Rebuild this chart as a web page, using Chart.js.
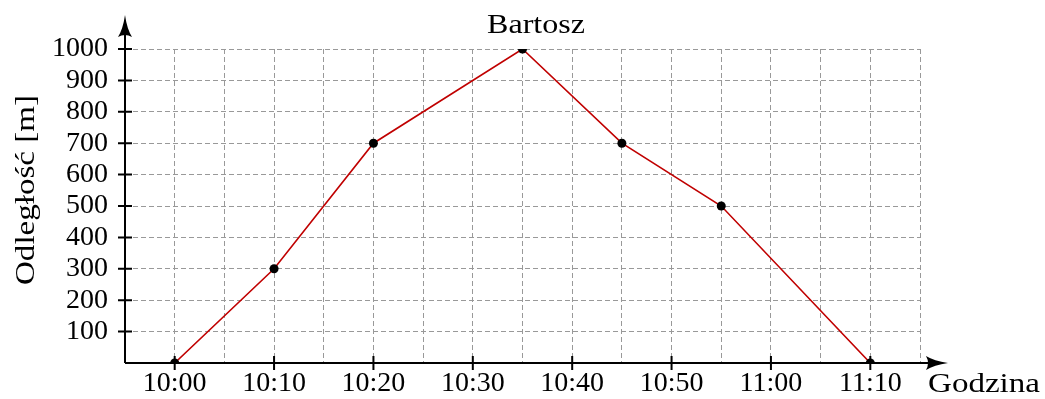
<!DOCTYPE html>
<html>
<head>
<meta charset="utf-8">
<script src="https://cdn.jsdelivr.net/npm/chart.js@4.4.1/dist/chart.umd.min.js"></script>
<style>
  html, body { margin: 0; padding: 0; background: #fff; }
  #wrap { width: 1045px; height: 399px; }
</style>
</head>
<body>
<div id="wrap"><canvas id="chart" width="1045" height="399"></canvas></div>
<script>
const times = ["10:00", "10:10", "10:20", "10:35", "10:45", "10:55", "11:10"];
const distances = [0, 300, 700, 1000, 700, 500, 0];
const xTickLabels = ["10:00", "10:10", "10:20", "10:30", "10:40", "10:50", "11:00", "11:10"];
const yTickLabels = [100, 200, 300, 400, 500, 600, 700, 800, 900, 1000];

const FONT = '"Liberation Serif", "DejaVu Serif", serif';

function toMinutes(t) {
    const [h, m] = t.split(':').map(Number);
    return (h - 10) * 60 + m;
}
function fmt(min) {
    const h = 10 + Math.floor(min / 60);
    const m = ((min % 60) + 60) % 60;
    return h + ':' + String(m).padStart(2, '0');
}

const points = times.map((t, i) => ({ x: toMinutes(t), y: distances[i] }));

// writes a word stretched to a given width
function wideText(ctx, text, x, y, width) {
    const w = ctx.measureText(text).width;
    ctx.save();
    ctx.translate(x, y);
    ctx.scale(width / w, 1);
    ctx.fillText(text, 0, 0);
    ctx.restore();
}

const axesPlugin = {
    id: 'axes',
    beforeDatasetsDraw(chart) {
        const ctx = chart.ctx;
        const { left, right, top, bottom } = chart.chartArea;
        const xs = chart.scales.x, ys = chart.scales.y;
        ctx.save();
        ctx.strokeStyle = '#000';
        ctx.fillStyle = '#000';
        ctx.lineWidth = 2;
        // axes
        ctx.beginPath();
        ctx.moveTo(left, bottom);
        ctx.lineTo(right + 20, bottom);
        ctx.moveTo(left, bottom);
        ctx.lineTo(left, top - 28);
        ctx.stroke();
        // ticks
        ctx.beginPath();
        xTickLabels.forEach(l => {
            const px = xs.getPixelForValue(toMinutes(l));
            ctx.moveTo(px, bottom - 7);
            ctx.lineTo(px, bottom + 7);
        });
        yTickLabels.forEach(v => {
            const py = ys.getPixelForValue(v);
            ctx.moveTo(left - 7, py);
            ctx.lineTo(left + 7, py);
        });
        ctx.stroke();
        // arrow heads
        const ax = right + 28, ay = bottom;
        ctx.beginPath();
        ctx.moveTo(ax, ay);
        ctx.quadraticCurveTo(ax - 14, ay - 2, ax - 22, ay - 7);
        ctx.quadraticCurveTo(ax - 18, ay, ax - 22, ay + 7);
        ctx.quadraticCurveTo(ax - 14, ay + 2, ax, ay);
        ctx.fill();
        const bx = left, by = top - 34;
        ctx.beginPath();
        ctx.moveTo(bx, by);
        ctx.quadraticCurveTo(bx - 2, by + 14, bx - 7, by + 22);
        ctx.quadraticCurveTo(bx, by + 18, bx + 7, by + 22);
        ctx.quadraticCurveTo(bx + 2, by + 14, bx, by);
        ctx.fill();
        // texts
        ctx.font = '28px ' + FONT;
        ctx.textBaseline = 'middle';
        ctx.textAlign = 'center';
        wideText(ctx, 'Bartosz', 536, 26, 98);
        ctx.textAlign = 'left';
        wideText(ctx, 'Godzina', 928, 385, 112);
        ctx.translate(27, 190);
        ctx.rotate(-Math.PI / 2);
        ctx.textAlign = 'center';
        wideText(ctx, 'Odległość [m]', 0, 0, 190);
        ctx.restore();
    }
};

new Chart(document.getElementById('chart').getContext('2d'), {
    type: 'line',
    data: {
        datasets: [{
            label: 'Bartosz',
            data: points,
            borderColor: '#c00000',
            borderWidth: 1.6,
            pointBackgroundColor: '#000',
            pointBorderColor: '#000',
            pointRadius: 4.5,
            pointBorderWidth: 0,
            tension: 0,
            fill: false
        }]
    },
    options: {
        responsive: false,
        animation: false,
        layout: { padding: { left: 0, right: 125, top: 49, bottom: 0 } },
        plugins: { legend: { display: false }, tooltip: { enabled: false } },
        scales: {
            x: {
                type: 'linear',
                min: -5,
                max: 75,
                afterFit(scale) { scale.height = 36; },
                border: { display: false, dash: [5, 3] },
                grid: { color: '#999', lineWidth: 1, drawTicks: false },
                ticks: {
                    stepSize: 5,
                    padding: 4,
                    color: '#000',
                    font: { family: FONT, size: 28 },
                    maxRotation: 0,
                    autoSkip: false,
                    callback: v => xTickLabels.includes(fmt(v)) ? fmt(v) : ''
                }
            },
            y: {
                min: 0,
                max: 1000,
                afterFit(scale) { scale.width = 125; },
                border: { display: false, dash: [5, 3] },
                grid: { color: '#999', lineWidth: 1, drawTicks: false },
                ticks: {
                    stepSize: 100,
                    padding: 17,
                    autoSkip: false,
                    color: '#000',
                    font: { family: FONT, size: 28 },
                    callback: v => yTickLabels.includes(v) ? String(v) : ''
                }
            }
        }
    },
    plugins: [axesPlugin]
});
</script>
</body>
</html>
